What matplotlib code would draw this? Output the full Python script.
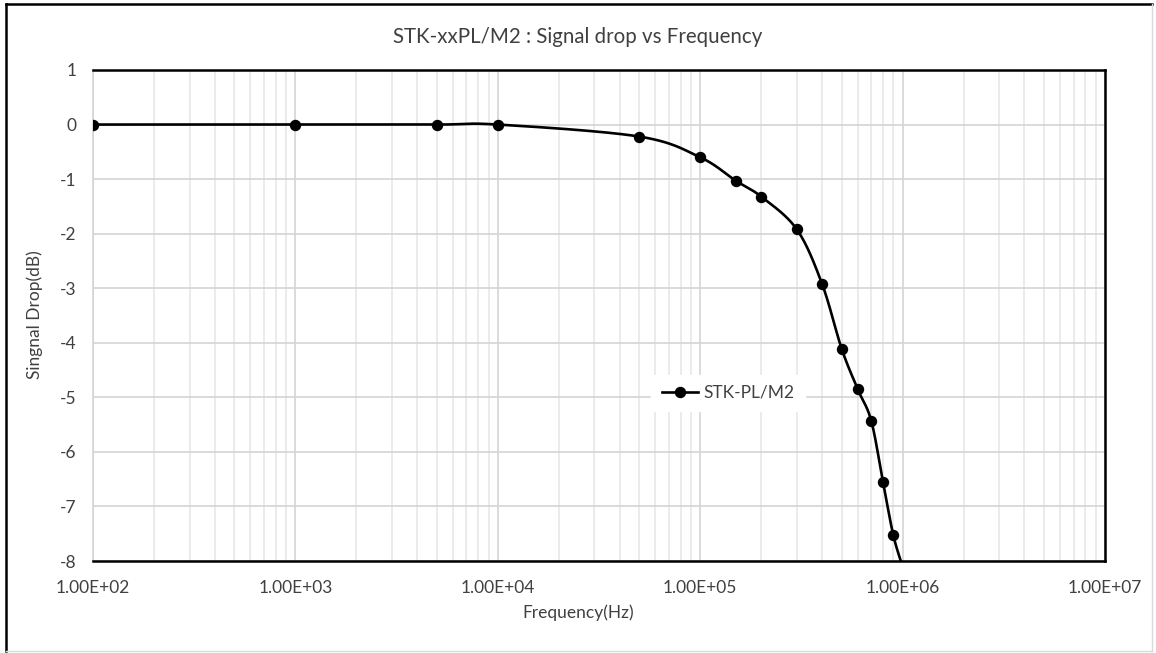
import numpy as np
import matplotlib
matplotlib.use("Agg")
import matplotlib.pyplot as plt
from matplotlib.ticker import LogLocator, FixedLocator, NullFormatter
from matplotlib.lines import Line2D

# ---- data ----
freq_hz = [1e2, 1e3, 5e3, 1e4, 5e4, 1e5, 1.5e5, 2e5, 3e5, 4e5, 5e5, 6e5, 7e5, 8e5, 9e5, 1e6]
drop_db = [0.0, 0.0, 0.0, 0.0, -0.22, -0.60, -1.03, -1.32, -1.92, -2.92, -4.11, -4.85, -5.43, -6.55, -7.53, -8.1]
series_name = "STK-PL/M2"
title = "STK-xxPL/M2 : Signal drop vs Frequency"
xlabel = "Frequency(Hz)"
ylabel = "Singnal Drop(dB)"
xtick_vals = [1e2, 1e3, 1e4, 1e5, 1e6, 1e7]
xtick_labels = ["1.00E+02", "1.00E+03", "1.00E+04", "1.00E+05", "1.00E+06", "1.00E+07"]
ytick_vals = [1, 0, -1, -2, -3, -4, -5, -6, -7, -8]

plt.rcParams['font.family'] = ['Lato', 'DejaVu Sans']
TXT = "#404040"
FS = 12.5
MS = 7.2

fig = plt.figure(figsize=(11.56, 6.53), dpi=100)
ax = fig.add_axes([93/1156, 1-561/653, (1105-93)/1156, (561-70)/653])

# Excel-like smoothed line: Catmull-Rom (Bezier with /6 tangents) in (log10 x, y)
lx = np.log10(freq_hz)
ly = np.array(drop_db, dtype=float)
n = len(lx)
P = np.column_stack([lx, ly])
curve = []
t = np.linspace(0, 1, 40)
for i in range(n - 1):
    p0 = P[max(i - 1, 0)]
    p1 = P[i]
    p2 = P[i + 1]
    p3 = P[min(i + 2, n - 1)]
    c1 = p1 + (p2 - p0) / 6.0
    c2 = p2 - (p3 - p1) / 6.0
    seg = ((1 - t)[:, None] ** 3 * p1 + 3 * ((1 - t) ** 2 * t)[:, None] * c1
           + 3 * ((1 - t) * t ** 2)[:, None] * c2 + (t ** 3)[:, None] * p2)
    curve.append(seg if i == 0 else seg[1:])
curve = np.vstack(curve)

ax.plot(10 ** curve[:, 0], curve[:, 1], color="black", lw=1.9, zorder=3, solid_capstyle="round")
ax.plot(freq_hz, drop_db, linestyle="none", marker="o", ms=MS, color="black", zorder=4)

ax.set_xscale("log")
ax.set_xlim(1e2, 1e7)
ax.set_ylim(-8, 1)

ax.xaxis.set_major_locator(FixedLocator(xtick_vals))
ax.set_xticklabels(xtick_labels)
ax.xaxis.set_minor_locator(LogLocator(base=10, subs=np.arange(2, 10), numticks=100))
ax.xaxis.set_minor_formatter(NullFormatter())
ax.set_yticks(ytick_vals)
ax.set_yticklabels([str(v) for v in ytick_vals])

ax.grid(True, which="major", axis="both", color="#d4d4d4", lw=1.2, zorder=0)
ax.grid(True, which="minor", axis="x", color="#e8e8e8", lw=1.2, zorder=0)
ax.set_axisbelow(True)

ax.tick_params(axis="both", which="both", length=0, colors=TXT, labelsize=FS)
ax.tick_params(axis="x", pad=14)
ax.tick_params(axis="y", pad=12)
for lab in ax.get_xticklabels() + ax.get_yticklabels():
    lab.set_color(TXT)

for s in ["top", "bottom", "right"]:
    ax.spines[s].set_color("black")
    ax.spines[s].set_linewidth(1.8)
ax.spines["left"].set_color("#d4d4d4")
ax.spines["left"].set_linewidth(1.2)

fig.text(578/1156, 1-613/653, xlabel, ha="center", va="center", fontsize=FS, color=TXT)
fig.text(35/1156, 1-315/653, ylabel, ha="center", va="center", fontsize=FS, color=TXT, rotation=90)
fig.text(578/1156, 1-37/653, title, ha="center", va="center", fontsize=14.8, color=TXT)

handle = Line2D([0], [0], color="black", lw=1.9, marker="o", ms=MS)
leg = ax.legend([handle], [series_name], loc="center", bbox_to_anchor=((728-93)/1012, (561-393)/491),
                frameon=True, fontsize=FS, handlelength=2.1, handletextpad=0.3,
                borderpad=0.6, fancybox=False)
leg.get_frame().set_facecolor("white")
leg.get_frame().set_edgecolor("white")
leg.get_frame().set_alpha(1.0)
for txt in leg.get_texts():
    txt.set_color(TXT)

# outer chart border
fig.add_artist(Line2D([6/1156, 6/1156], [1-4/653, 1-651/653], color="black", lw=1.8, transform=fig.transFigure))
fig.add_artist(Line2D([6/1156, 1152/1156], [1-4/653, 1-4/653], color="black", lw=1.8, transform=fig.transFigure))
fig.add_artist(Line2D([1152/1156, 1152/1156], [1-4/653, 1-651/653], color="#d9d9d9", lw=1.0, transform=fig.transFigure))
fig.add_artist(Line2D([6/1156, 1152/1156], [1-651/653, 1-651/653], color="#d9d9d9", lw=1.0, transform=fig.transFigure))

fig.savefig("out.png", dpi=100)
